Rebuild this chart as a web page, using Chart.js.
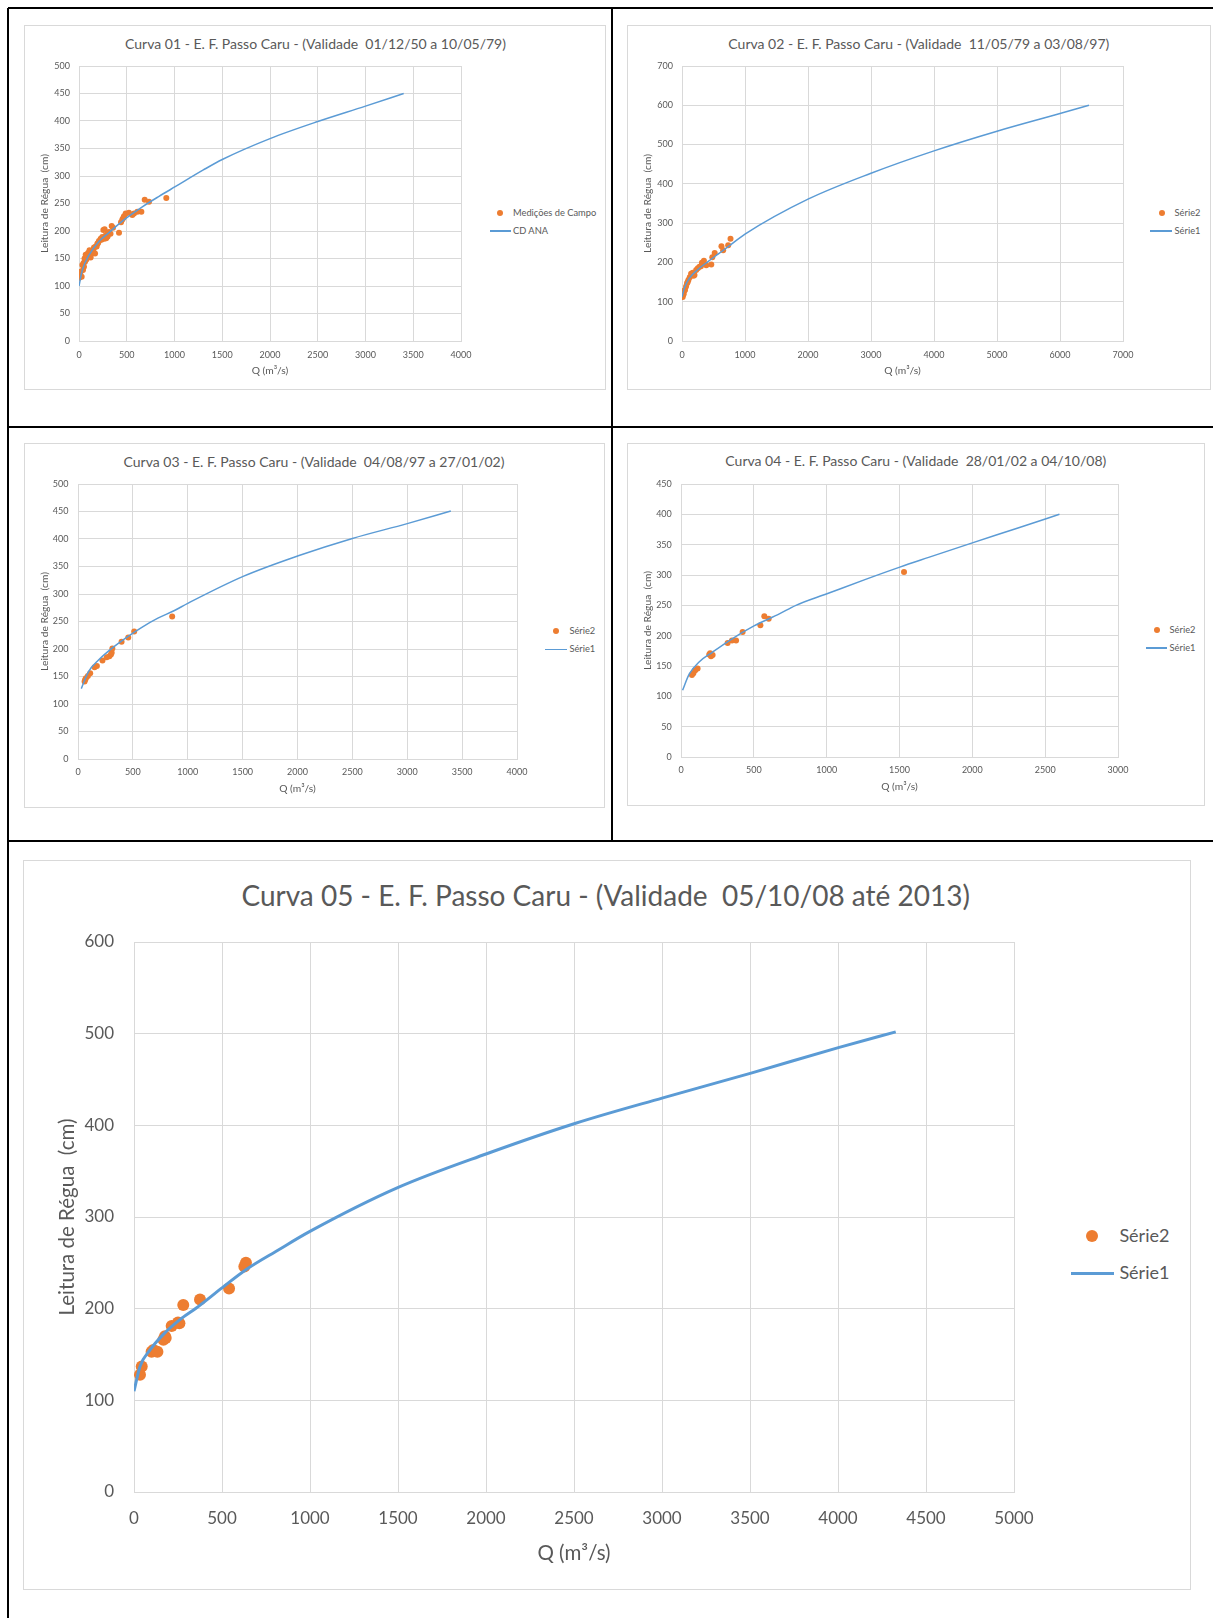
<!DOCTYPE html>
<html>
<head>
<meta charset="utf-8">
<script src="https://cdn.jsdelivr.net/npm/chart.js@4.4.1/dist/chart.umd.min.js"></script>
<style>
  body { margin: 0; background: #fff; width: 1213px; height: 1618px; position: relative; overflow: hidden; font-family: Lato, "Open Sans", sans-serif; color: #595959; }
  .rule { position: absolute; background: #000; }
  .frame { position: absolute; border: 1px solid #d9d9d9; box-sizing: border-box; }
  canvas { position: absolute; }
  .title { position: absolute; white-space: pre; line-height: 1.2; transform: translate(-50%, -50%); }
  .legtext { position: absolute; white-space: nowrap; line-height: 1.2; transform: translateY(-50%); }
  .dot { position: absolute; border-radius: 50%; background: #ED7D31; }
  .seg { position: absolute; background: #5B9BD5; }
</style>
</head>
<body>
<script>
// ---- data: [Q (m3/s), leitura (cm)] ----
const curva01Medicoes = [[2,115],[7,116],[12,122],[17,126],[28,117],[35,138],[42,129],[48,142],[52,135],[58,150],[63,144],[70,157],[77,148],[87,156],[95,160],[105,154],[110,165],[122,152],[130,158],[140,162],[150,166],[157,170],[168,159],[175,172],[185,172],[192,177],[200,178],[209,182],[227,186],[235,184],[244,189],[255,202],[265,186],[268,203],[279,192],[285,187],[297,194],[300,190],[314,198],[330,195],[342,209],[356,206],[419,197],[440,216],[454,221],[465,224],[471,227],[489,232],[523,233],[558,229],[576,232],[611,235],[653,235],[688,257],[733,253],[914,260]];
const curva01Curva = [[0,100],[35,129],[105,156],[209,181],[314,197],[419,213],[523,227],[663,244],[838,263],[1012,281],[1302,311],[1500,330],[2000,368],[2500,399],[3000,427],[3400,450]];

const curva02Medicoes = [[11,112],[20,118],[27,120],[35,128],[48,130],[64,139],[80,147],[90,150],[102,155],[123,162],[144,171],[171,174],[185,166],[198,168],[225,181],[251,185],[278,189],[300,190],[316,199],[348,204],[385,193],[465,195],[481,213],[519,224],[626,241],[653,231],[733,244],[770,260]];
const curva02Curva = [[0,112],[37,134],[118,160],[251,182],[412,202],[572,221],[733,240],[1000,272],[2000,361],[3000,427],[4000,484],[5000,534],[6000,579],[6460,600]];

const curva03Medicoes = [[60,141],[65,144],[72,147],[90,151],[111,156],[151,167],[172,169],[223,179],[262,185],[286,187],[300,190],[307,193],[313,201],[397,213],[458,221],[512,232],[858,259]];
const curva03Curva = [[30,128],[96,159],[187,180],[307,201],[427,219],[578,239],[728,256],[879,270],[1000,283],[1505,332],[2000,369],[2500,401],[3000,428],[3397,451]];

const curva04Medicoes = [[75,135],[85,138],[98,143],[114,146],[194,169],[200,171],[206,166],[217,168],[320,188],[350,192],[378,192],[423,206],[545,217],[572,232],[602,228],[1531,305]];
const curva04Curva = [[11,110],[57,137],[126,157],[217,173],[332,192],[501,216],[675,236],[789,250],[1002,269],[1258,292],[1502,313],[1700,329],[2000,353],[2308,377],[2598,400]];

const curva05Medicoes = [[34,128],[44,137],[100,153],[110,155],[133,153],[167,166],[176,170],[180,168],[214,181],[250,185],[258,184],[280,204],[375,210],[540,222],[627,246],[636,250]];
const curva05Curva = [[0,110],[34,137],[91,155],[167,172],[261,188],[356,201],[502,223],[640,243],[820,264],[997,284],[1498,332],[2004,369],[2505,402],[3005,430],[3506,457],[4007,485],[4328,502]];

const titles = [
  'Curva 01 - E. F. Passo Caru - (Validade  01/12/50 a 10/05/79)',
  'Curva 02 - E. F. Passo Caru - (Validade  11/05/79 a 03/08/97)',
  'Curva 03 - E. F. Passo Caru - (Validade  04/08/97 a 27/01/02)',
  'Curva 04 - E. F. Passo Caru - (Validade  28/01/02 a 04/10/08)',
  'Curva 05 - E. F. Passo Caru - (Validade  05/10/08 até 2013)'
];
const legendLabels = [
  ['Medições de Campo', 'CD ANA'],
  ['Série2', 'Série1'],
  ['Série2', 'Série1'],
  ['Série2', 'Série1'],
  ['Série2', 'Série1']
];
const xAxisMax = [4000, 7000, 4000, 3000, 5000];
const xAxisStep = [500, 1000, 500, 500, 500];
const yAxisMax = [500, 700, 500, 450, 600];
const yAxisStep = [50, 100, 50, 50, 100];
const xAxisTitle = 'Q (m³/s)';
const yAxisTitle = 'Leitura de Régua  (cm)';

const medicoes = [curva01Medicoes, curva02Medicoes, curva03Medicoes, curva04Medicoes, curva05Medicoes];
const curvas = [curva01Curva, curva02Curva, curva03Curva, curva04Curva, curva05Curva];

// ---- page geometry ----
const ORANGE = '#ED7D31';
const BLUE = '#5B9BD5';
const GREY = '#595959';
const GRID = '#d9d9d9';

const layouts = [
  { box: [24, 25, 606, 390], plot: [79, 66, 461, 341], tick: 9, yGap: 9, xLabelY: 354.7, axis: 10.3, yTitleX: 44.7, xTitleY: 371,
    title: 14, titleX: 315.5, titleY: 44, leg: 9.3, dot: [500, 212.7], seg: [489.5, 511, 231], legX: 513, r: 3, lw: 1.5 },
  { box: [627, 25, 1211, 390], plot: [682, 66, 1123, 341], tick: 9, yGap: 9, xLabelY: 354.7, axis: 10.3, yTitleX: 647.3, xTitleY: 371,
    title: 14, titleX: 918.8, titleY: 44, leg: 9.3, dot: [1161.9, 212.7], seg: [1150, 1172, 231], legX: 1174.6, r: 3, lw: 1.5 },
  { box: [24, 443, 605, 808], plot: [78, 484, 517, 759], tick: 9, yGap: 9.5, xLabelY: 771.7, axis: 10.3, yTitleX: 44.7, xTitleY: 788.3,
    title: 14, titleX: 314, titleY: 462.3, leg: 9.3, dot: [556.3, 631], seg: [545, 567, 649.3], legX: 569.4, r: 3, lw: 1.5 },
  { box: [627, 443, 1205, 806], plot: [681, 484, 1118, 757], tick: 9, yGap: 9.2, xLabelY: 770, axis: 10.3, yTitleX: 647.3, xTitleY: 786.7,
    title: 14, titleX: 915.8, titleY: 461, leg: 9.3, dot: [1157, 630], seg: [1145.8, 1167, 648], legX: 1169.6, r: 3, lw: 1.5 },
  { box: [23, 860, 1191, 1590], plot: [134, 942, 1014, 1492], tick: 17, yGap: 20, xLabelY: 1519, axis: 20.5, yTitleX: 67.3, xTitleY: 1553,
    title: 28, titleX: 605.7, titleY: 896, leg: 18, dot: [1092.3, 1235.5], seg: [1071.4, 1114, 1273.3], legX: 1119.4, r: 6, lw: 3 }
];

const rules = [
  [8, 7, 1205, 2],     // top
  [7, 8, 2, 1610],     // left
  [611, 8, 2, 833],    // middle column
  [8, 426, 1205, 2],   // row 1 / row 2
  [8, 840, 1205, 2]    // row 2 / row 3
];

Chart.defaults.font.family = 'Lato, "Open Sans", sans-serif';
Chart.defaults.color = GREY;

function el(cls, left, top, width, height) {
  const d = document.createElement('div');
  d.className = cls;
  d.style.left = left + 'px';
  d.style.top = top + 'px';
  if (width != null) d.style.width = width + 'px';
  if (height != null) d.style.height = height + 'px';
  document.body.appendChild(d);
  return d;
}

rules.forEach(([l, t, w, h]) => el('rule', l, t, w, h));

function drawCurva(i) {
  const L = layouts[i];
  const [bl, bt, br, bb] = L.box;
  const [pl, pt, pr, pb] = L.plot;

  el('frame', bl, bt, br - bl, bb - bt);

  const title = el('title', L.titleX, L.titleY);
  title.textContent = titles[i];
  title.style.fontSize = L.title + 'px';

  // legend
  el('dot', L.dot[0] - L.r, L.dot[1] - L.r, L.r * 2, L.r * 2);
  el('seg', L.seg[0], L.seg[2] - L.lw / 2, L.seg[1] - L.seg[0], L.lw);
  const t1 = el('legtext', L.legX, L.dot[1]);
  t1.textContent = legendLabels[i][0];
  t1.style.fontSize = L.leg + 'px';
  const t2 = el('legtext', L.legX, L.seg[2]);
  t2.textContent = legendLabels[i][1];
  t2.style.fontSize = L.leg + 'px';

  const cv = document.createElement('canvas');
  cv.width = br - bl;
  cv.height = bb - bt;
  cv.style.left = bl + 'px';
  cv.style.top = bt + 'px';
  document.body.appendChild(cv);

  const half = size => size * 1.2 / 2;

  new Chart(cv, {
    type: 'scatter',
    data: {
      datasets: [
        {
          label: legendLabels[i][1],
          data: curvas[i].map(([x, y]) => ({ x, y })),
          showLine: true,
          borderColor: BLUE,
          borderWidth: L.lw,
          pointRadius: 0,
          cubicInterpolationMode: 'monotone',
          fill: false
        },
        {
          label: legendLabels[i][0],
          data: medicoes[i].map(([x, y]) => ({ x, y })),
          backgroundColor: ORANGE,
          borderColor: ORANGE,
          pointRadius: L.r,
          pointBorderWidth: 0
        }
      ]
    },
    options: {
      responsive: false,
      animation: false,
      events: [],
      layout: { padding: { top: pt - bt, right: br - pr, left: 0, bottom: 0 } },
      plugins: { legend: { display: false }, title: { display: false }, tooltip: { enabled: false } },
      scales: {
        x: {
          type: 'linear',
          position: 'bottom',
          min: 0,
          max: xAxisMax[i],
          ticks: {
            stepSize: xAxisStep[i],
            autoSkip: false,
            maxRotation: 0,
            font: { size: L.tick },
            color: GREY,
            padding: L.xLabelY - pb - half(L.tick),
            callback: v => String(v)
          },
          grid: { color: GRID, drawTicks: false },
          border: { color: GRID },
          title: {
            display: true,
            text: xAxisTitle,
            color: GREY,
            font: { size: L.axis },
            padding: { top: 0, bottom: bb - L.xTitleY - half(L.axis) }
          },
          afterFit: s => { s.height = bb - pb; }
        },
        y: {
          type: 'linear',
          position: 'left',
          min: 0,
          max: yAxisMax[i],
          ticks: {
            stepSize: yAxisStep[i],
            autoSkip: false,
            font: { size: L.tick },
            color: GREY,
            padding: L.yGap,
            callback: v => String(v)
          },
          grid: { color: GRID, drawTicks: false },
          border: { color: GRID },
          title: {
            display: true,
            text: yAxisTitle,
            color: GREY,
            font: { size: L.axis },
            padding: { top: L.yTitleX - bl - half(L.axis), bottom: 0 }
          },
          afterFit: s => { s.width = pl - bl; }
        }
      }
    }
  });
}

for (let i = 0; i < layouts.length; i++) drawCurva(i);
</script>
</body>
</html>
